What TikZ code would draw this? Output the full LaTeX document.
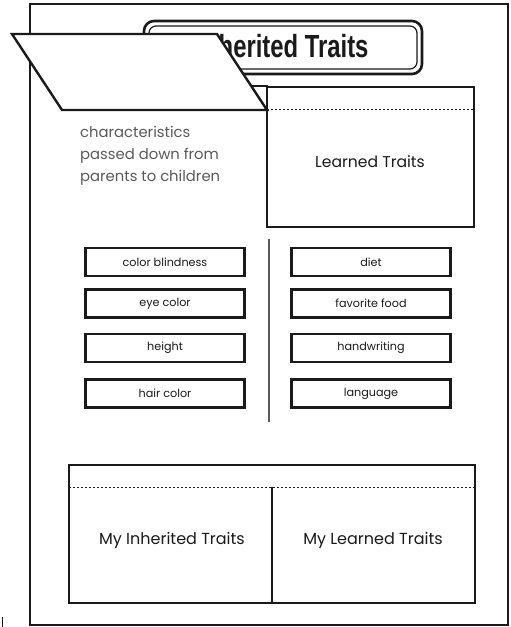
\documentclass[tikz,border=0pt]{standalone}
\usepackage{fontspec}
\setmainfont{Poppins}
\newfontfamily\titlefont[FakeStretch=0.745]{Liberation Sans}
\definecolor{ink}{HTML}{1A1A1A}
\definecolor{note}{HTML}{5A5A5A}
\tikzset{
  frame/.style={draw=ink, line width=2pt},
  traitbox/.style={draw=ink, line width=2.6pt, rectangle, minimum width=159pt,
    minimum height=28pt, inner sep=0pt, font=\fontsize{11.2}{13}\selectfont, text=ink},
  flap/.style={draw=ink, line width=2.4pt},
  fold/.style={draw=ink, line width=0.8pt, dash pattern=on 2pt off 2pt},
  label/.style={font=\fontsize{15.6}{18}\selectfont, text=ink, inner sep=0pt},
}
\begin{document}
\begin{tikzpicture}[x=1pt, y=-1pt]
\useasboundingbox (0,0) rectangle (511,627);
\fill[white] (0,0) rectangle (511,627);

% page frame and trim mark
\draw[frame] (30,4) rectangle (508,625);
\draw[ink, line width=1pt] (2,617) -- (2,627);

% title plate with double rounded border
\draw[ink, line width=2.6pt, rounded corners=10pt] (144,21) rectangle (422,74);
\draw[ink, line width=1.2pt, rounded corners=7pt] (149,26) rectangle (417,69);
\node[inner sep=0pt, text=ink, anchor=base] (title) at (283,57)
  {\titlefont\bfseries\fontsize{32}{36}\selectfont Inherited Traits};

% learned-traits flap
\draw[flap] (267,87) rectangle (474,227);
\draw[fold] (267,109) -- (474,109);
\node[label] (learned) at (370,162) {Learned Traits};

% corner of the inherited-traits base under the lifted flap
\draw[flap] (252,86) -- (267,86) -- (267,110);

% lifted inherited-traits flap
\draw[flap, fill=white, line join=miter] (12,34) -- (217,34) -- (267,110) -- (62,110) -- cycle;

% definition text
\node[anchor=north west, align=left, text=note, inner sep=0pt,
  font=\fontsize{14.8}{22}\selectfont] (defn) at (80,126)
  {characteristics\\passed down from\\parents to children};

% column divider
\draw[draw=note, line width=1.2pt] (269,239) -- (269,422);

% trait cards
\node[traitbox] (cb) at (165,262) {color blindness};
\node[traitbox] (eye) at (165,303.5) {eye color};
\node[traitbox] (ht) at (165,348) {height};
\node[traitbox] (hair) at (165,393.5) {hair color};
\node[traitbox] (diet) at (371,262) {diet};
\node[traitbox] (food) at (371,303.5) {favorite food};
\node[traitbox] (hand) at (371,348) {handwriting};
\node[traitbox] (lang) at (371,393.5) {language};

% my-traits flap
\draw[flap] (69,465) rectangle (475,603);
\draw[fold] (69,487) -- (475,487);
\draw[ink, line width=2.2pt] (272,487) -- (272,603);
\node[label, font=\fontsize{16}{19}\selectfont] (myin) at (172,540) {My Inherited Traits};
\node[label, font=\fontsize{16}{19}\selectfont] (mylearn) at (373,540) {My Learned Traits};
\end{tikzpicture}
\end{document}
